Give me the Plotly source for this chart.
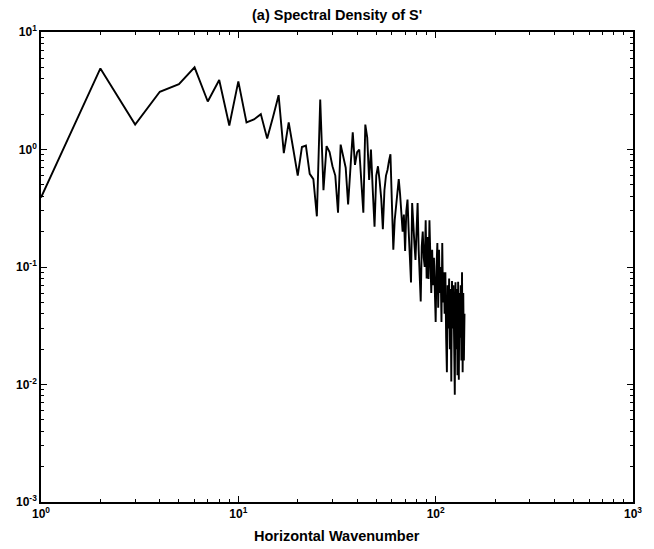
import plotly.graph_objects as go

wavenumber = list(range(1, 141))
density = [
    0.39, 4.9, 1.63, 3.1, 3.6, 5.0, 2.56, 3.9, 1.6, 3.8,
    1.7, 1.8, 2.0, 1.24, 1.9, 2.9, 0.93, 1.7, 1.0, 0.6,
    1.05, 1.08, 0.62, 0.56, 0.27, 2.66, 0.45, 1.07, 0.95, 0.72,
    0.6, 0.29, 1.1, 0.9, 0.7, 0.34, 0.7, 1.4, 0.74, 0.95,
    1.0, 0.5, 0.29, 1.63, 1.26, 0.55, 1.0, 0.45, 0.22, 0.6,
    0.72, 0.54, 0.38, 0.21, 0.45, 0.6, 0.67, 0.8, 0.91, 0.35,
    0.14, 0.25, 0.33, 0.45, 0.56, 0.42, 0.31, 0.2, 0.28, 0.137,
    0.3, 0.375, 0.2, 0.12, 0.074, 0.35, 0.2, 0.16, 0.115, 0.25,
    0.35, 0.14, 0.09, 0.051, 0.15, 0.2, 0.12, 0.1, 0.25, 0.08,
    0.18, 0.079, 0.25, 0.11, 0.06, 0.14, 0.07, 0.12, 0.05, 0.034,
    0.1, 0.16, 0.045, 0.14, 0.06, 0.1, 0.034, 0.16, 0.05, 0.09,
    0.04, 0.09, 0.025, 0.0127, 0.07, 0.03, 0.08, 0.02, 0.065, 0.0106,
    0.076, 0.03, 0.07, 0.015, 0.0082, 0.074, 0.02, 0.065, 0.012, 0.075,
    0.011, 0.06, 0.025, 0.07, 0.016, 0.09, 0.0127, 0.06, 0.016, 0.04,
]

x_tick_vals = [1, 10, 100, 1000]
x_tick_text = ["10<sup>0</sup>", "10<sup>1</sup>", "10<sup>2</sup>", "10<sup>3</sup>"]
y_tick_vals = [0.001, 0.01, 0.1, 1, 10]
y_tick_text = ["10<sup>-3</sup>", "10<sup>-2</sup>", "10<sup>-1</sup>", "10<sup>0</sup>", "10<sup>1</sup>"]

title_text = "(a) Spectral Density of S'"
x_label = "Horizontal Wavenumber"

x_minor = [m * 10 ** d for d in range(0, 3) for m in range(2, 10)]
y_minor = [m * 10 ** d for d in range(-3, 1) for m in range(2, 10)]

font = dict(family="Liberation Sans, Arial, sans-serif", color="black")

fig = go.Figure()
fig.add_trace(go.Scatter(
    x=wavenumber, y=density, mode="lines",
    line=dict(color="black", width=1.9), showlegend=False,
))

axis_common = dict(
    type="log", showgrid=False, zeroline=False,
    showline=True, linecolor="black", linewidth=1.6, mirror="ticks",
    ticks="inside", ticklen=6, tickwidth=1.2, tickcolor="black",
    tickfont=dict(size=12, weight="bold", **font),
)

fig.update_xaxes(
    range=[0, 3], tickmode="array", tickvals=x_tick_vals, ticktext=x_tick_text,
    minor=dict(ticks="inside", ticklen=3, tickwidth=1, tickcolor="black", tickmode="array", tickvals=x_minor, showgrid=False),
    **axis_common,
)
fig.update_yaxes(
    range=[-3, 1], tickmode="array", tickvals=y_tick_vals, ticktext=y_tick_text,
    minor=dict(ticks="inside", ticklen=3, tickwidth=1, tickcolor="black", tickmode="array", tickvals=y_minor, showgrid=False),
    **axis_common,
)

fig.update_layout(
    width=654, height=549,
    margin=dict(l=41, r=19, t=32, b=47),
    paper_bgcolor="white", plot_bgcolor="white",
    font=font,
    annotations=[
        dict(text=title_text, xref="paper", yref="paper", x=0.5, y=1, yshift=17,
             showarrow=False, xanchor="center", yanchor="middle",
             font=dict(size=14.5, weight="bold", **font)),
        dict(text=x_label, xref="paper", yref="paper", x=0.5, y=0, yshift=-34,
             showarrow=False, xanchor="center", yanchor="middle",
             font=dict(size=14.5, weight="bold", **font)),
    ],
)

fig.write_html("out.html")
